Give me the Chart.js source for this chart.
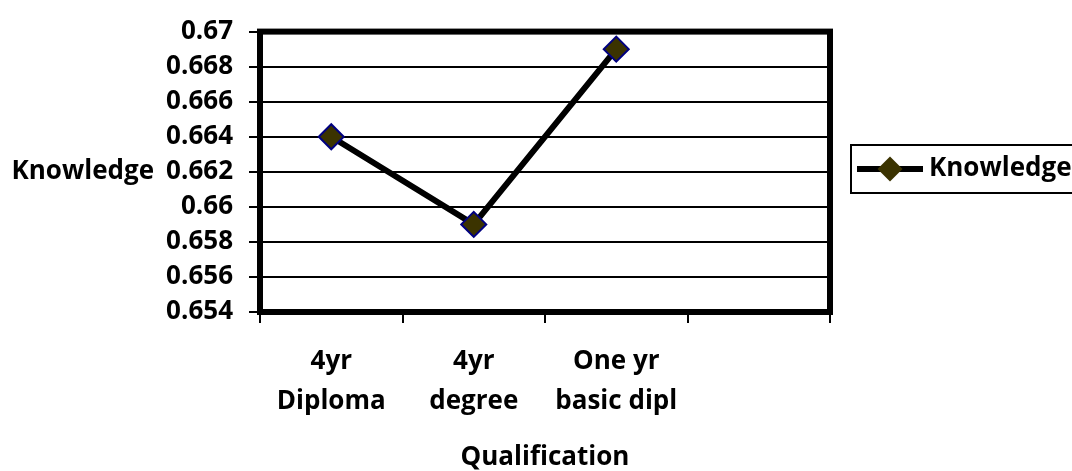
<!DOCTYPE html>
<html>
<head>
<meta charset="utf-8">
<script src="https://cdn.jsdelivr.net/npm/chart.js@4.4.1/dist/chart.umd.min.js"></script>
<style>
  html, body { margin: 0; padding: 0; background: #fff; }
  #wrap { width: 1072px; height: 471px; position: relative; }
</style>
</head>
<body>
<div id="wrap"><canvas id="myChart"></canvas></div>
<script>
'use strict';

// chart data
const categories = [['4yr', 'Diploma'], ['4yr', 'degree'], ['One yr', 'basic dipl'], ''];
const knowledgeValues = [0.664, 0.659, 0.669, null];
const yTickValues = [0.654, 0.656, 0.658, 0.66, 0.662, 0.664, 0.666, 0.668, 0.67];
const seriesLabel = 'Knowledge';
const yTitle = 'Knowledge';
const xTitle = 'Qualification';

const FONT = "'Open Sans', sans-serif";
const FONT_SIZE = 26;

// thick frame round the plot, horizontal y title and the legend on the right
const framePlugin = {
    id: 'frame',
    afterDraw(chart) {
        const ctx = chart.ctx;
        const a = chart.chartArea;
        ctx.save();
        ctx.strokeStyle = '#000';
        ctx.lineWidth = 6;
        ctx.strokeRect(a.left, a.top, a.right - a.left, a.bottom - a.top);

        // y title, written flat
        ctx.fillStyle = '#000';
        ctx.font = 'bold ' + FONT_SIZE + 'px ' + FONT;
        ctx.textAlign = 'right';
        ctx.textBaseline = 'middle';
        ctx.fillText(yTitle, 154, chart.scales.y.getPixelForValue(0.662));

        // legend
        const lx = 851, ly = 145, lh = 48;
        ctx.lineWidth = 2;
        ctx.strokeRect(lx, ly, 1072 - lx + 4, lh);
        const cy = ly + lh / 2;
        ctx.lineWidth = 6;
        ctx.beginPath();
        ctx.moveTo(857, cy);
        ctx.lineTo(923, cy);
        ctx.stroke();
        const ds = chart.data.datasets[0];
        ctx.fillStyle = ds.pointBackgroundColor;
        ctx.strokeStyle = ds.pointBorderColor;
        ctx.lineWidth = ds.pointBorderWidth;
        Chart.helpers.drawPoint(ctx, {pointStyle: 'rectRot', radius: ds.pointRadius, rotation: 0}, 890, cy);
        ctx.fillStyle = '#000';
        ctx.textAlign = 'left';
        ctx.fillText(ds.label, 929, cy);
        ctx.restore();
    }
};

new Chart('myChart', {
    type: 'line',
    data: {
        labels: categories,
        datasets: [{
            label: seriesLabel,
            data: knowledgeValues,
            borderColor: '#000',
            borderWidth: 6,
            pointStyle: 'rectRot',
            pointRadius: 12.5,
            pointHoverRadius: 12.5,
            pointBackgroundColor: '#3b3300',
            pointBorderColor: '#000080',
            pointBorderWidth: 2,
            tension: 0
        }]
    },
    options: {
        responsive: true,
        maintainAspectRatio: false,
        animation: false,
        layout: { padding: { left: 0, right: 242, top: 25, bottom: 0 } },
        plugins: {
            legend: { display: false },
            tooltip: { enabled: false }
        },
        scales: {
            x: {
                offset: true,
                grid: {
                    offset: true,
                    drawOnChartArea: false,
                    drawTicks: true,
                    tickLength: 11,
                    color: '#000',
                    lineWidth: 2
                },
                border: { display: false },
                ticks: {
                    color: '#000',
                    padding: 19,
                    maxRotation: 0,
                    autoSkip: false,
                    font: { family: FONT, size: FONT_SIZE, weight: 'bold', lineHeight: 1.54 }
                },
                title: {
                    display: true,
                    text: xTitle,
                    color: '#000',
                    padding: 0,
                    font: { family: FONT, size: FONT_SIZE, weight: 'bold', lineHeight: 1.0 }
                },
                afterFit(scale) { scale.height = 471 - 312; }
            },
            y: {
                min: 0.654,
                max: 0.67,
                afterBuildTicks(scale) {
                    scale.ticks = yTickValues.map(v => ({ value: v }));
                },
                grid: {
                    color: '#000',
                    lineWidth: 2,
                    tickLength: 11
                },
                border: { display: false },
                ticks: {
                    color: '#000',
                    padding: 16,
                    font: { family: FONT, size: FONT_SIZE, weight: 'bold' },
                    callback: v => String(Number(v.toFixed(3)))
                },
                afterFit(scale) { scale.width = 260; }
            }
        }
    },
    plugins: [framePlugin]
});
</script>
</body>
</html>
